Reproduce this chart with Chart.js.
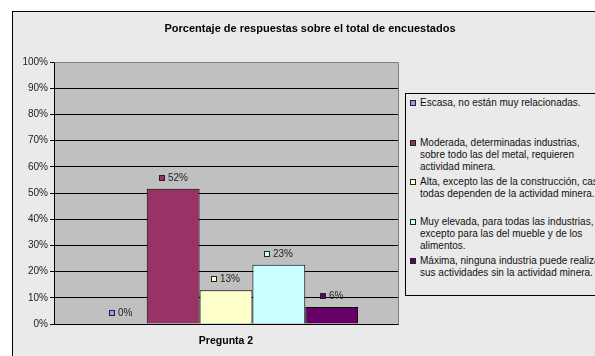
<!DOCTYPE html>
<html>
<head>
<meta charset="utf-8">
<script src="https://cdn.jsdelivr.net/npm/chart.js@4"></script>
<style>
    body { margin: 0; background: #fff; overflow: hidden; width: 595px; height: 356px; position: relative; font-family: "Liberation Sans", Arial, sans-serif; }
    #frame { position: absolute; left: 12px; top: 11px; width: 700px; height: 400px; background: #eaeaea; border-left: 1px solid #000; border-top: 1px solid #000; }
    #chart { position: absolute; left: 0; top: 0; }
    #title { position: absolute; left: 0; top: 22px; width: 620px; text-align: center; font-weight: bold; font-size: 11px; line-height: 13px; color: #000; }
    #legend { position: absolute; left: 405px; top: 93px; width: 240px; height: 201px; border: 1px solid #000; background: #eaeaea; }
    #legend .item { position: absolute; left: 0; white-space: pre; font-size: 10px; line-height: 12px; color: #111; }
    #legend .key { position: absolute; left: 2px; top: 3px; width: 4px; height: 4px; border: 1px solid #222; }
    #legend .txt { position: absolute; left: 12px; top: 0; }
</style>
</head>
<body>
<div id="frame"></div>
<canvas id="chart" width="595" height="356"></canvas>
<div id="title"></div>
<div id="legend"></div>
<script>
    var chartTitle = 'Porcentaje de respuestas sobre el total de encuestados';
    var categories = ['Pregunta 2'];
    var seriesNames = [
        'Escasa, no están muy relacionadas.',
        'Moderada, determinadas industrias,\nsobre todo las del metal, requieren\nactividad minera.',
        'Alta, excepto las de la construcción, casi\ntodas dependen de la actividad minera.',
        'Muy elevada, para todas las industrias,\nexcepto para las del mueble y de los\nalimentos.',
        'Máxima, ninguna industria puede realizar\nsus actividades sin la actividad minera.'
    ];
    var seriesValues = [0, 51.6, 12.9, 22.6, 6.45];
    var seriesColors = ['#9999ff', '#993366', '#ffffcc', '#ccffff', '#660066'];
    var yMin = 0, yMax = 100, yStep = 10;

    document.getElementById('title').textContent = chartTitle;

    // legend as html, one fixed slot per entry like the original
    var legend = document.getElementById('legend');
    seriesNames.forEach(function (name, i) {
        var item = document.createElement('div');
        item.className = 'item';
        item.style.top = (3 + i * 39.5) + 'px';
        item.style.left = '2px';
        var key = document.createElement('div');
        key.className = 'key';
        key.style.background = seriesColors[i];
        var txt = document.createElement('div');
        txt.className = 'txt';
        txt.textContent = name;
        item.appendChild(key);
        item.appendChild(txt);
        legend.appendChild(item);
    });

    // gray plot area with its frame
    var plotBackground = {
        id: 'plotBackground',
        beforeDraw: function (chart) {
            var a = chart.chartArea, ctx = chart.ctx;
            ctx.save();
            ctx.fillStyle = '#c0c0c0';
            ctx.fillRect(a.left, a.top, a.right - a.left, a.bottom - a.top);
            ctx.restore();
        },
        afterDraw: function (chart) {
            var a = chart.chartArea, ctx = chart.ctx;
            ctx.save();
            ctx.strokeStyle = '#808080';
            ctx.lineWidth = 1;
            ctx.beginPath();
            ctx.moveTo(Math.round(a.left) + 0.5, Math.round(a.top) + 0.5);
            ctx.lineTo(Math.round(a.right) + 0.5, Math.round(a.top) + 0.5);
            ctx.lineTo(Math.round(a.right) + 0.5, Math.round(a.bottom) + 0.5);
            ctx.stroke();
            ctx.restore();
        }
    };

    // value labels: little colour key + rounded percentage above each bar
    var valueLabels = {
        id: 'valueLabels',
        afterDatasetsDraw: function (chart) {
            var ctx = chart.ctx;
            ctx.save();
            ctx.font = '10px "Liberation Sans", Arial, sans-serif';
            ctx.textBaseline = 'middle';
            chart.data.datasets.forEach(function (ds, i) {
                var bar = chart.getDatasetMeta(i).data[0];
                var text = Math.round(ds.data[0]) + '%';
                var tw = ctx.measureText(text).width;
                var total = 6 + 3 + tw;
                var x0 = Math.round(bar.x - total / 2);
                var y = Math.round(bar.y - 11);
                ctx.fillStyle = ds.backgroundColor;
                ctx.fillRect(x0, y - 3, 6, 6);
                ctx.strokeStyle = '#222';
                ctx.lineWidth = 1;
                ctx.strokeRect(x0 + 0.5, y - 2.5, 5, 5);
                ctx.fillStyle = '#222';
                ctx.fillText(text, x0 + 9, y + 0.5);
            });
            ctx.restore();
        }
    };

    var datasets = seriesNames.map(function (name, i) {
        return {
            label: name.replace(/\n/g, ' '),
            data: [seriesValues[i]],
            backgroundColor: seriesColors[i],
            borderColor: '#000',
            borderWidth: 1,
            categoryPercentage: 0.768,
            barPercentage: 1
        };
    });

    Chart.defaults.font.family = '"Liberation Sans", Arial, sans-serif';
    Chart.defaults.color = '#222';

    var chart = new Chart(document.getElementById('chart').getContext('2d'), {
        type: 'bar',
        data: { labels: categories, datasets: datasets },
        options: {
            responsive: false,
            animation: false,
            layout: { padding: { left: 0, top: 62, right: 197, bottom: 0 } },
            plugins: {
                legend: { display: false },
                tooltip: { enabled: false }
            },
            scales: {
                x: {
                    grid: { display: false, drawTicks: false },
                    border: { display: true, color: '#000', width: 1 },
                    ticks: { padding: 11, color: '#000', font: { size: 10.5, weight: 'bold' } },
                    afterFit: function (scale) { scale.height = 32; }
                },
                y: {
                    min: yMin, max: yMax,
                    grid: { color: '#000', tickLength: 4, lineWidth: 1 },
                    border: { display: true, color: '#000', width: 1 },
                    ticks: {
                        stepSize: yStep, padding: 2, color: '#222',
                        font: { size: 10 },
                        callback: function (v) { return v + '%'; }
                    },
                    afterFit: function (scale) { scale.width = 54; }
                }
            }
        },
        plugins: [plotBackground, valueLabels]
    });
</script>
</body>
</html>
